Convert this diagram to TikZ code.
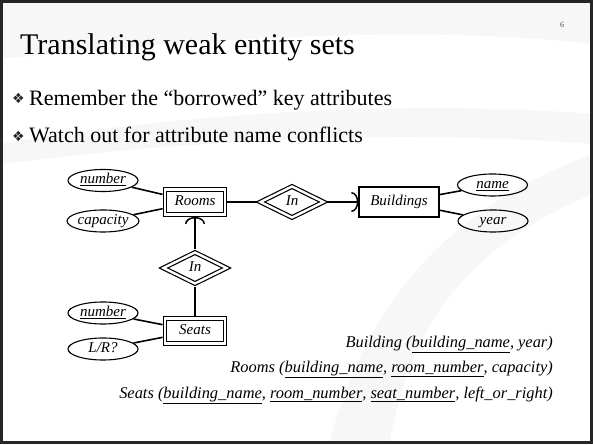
\documentclass[tikz,border=0pt]{standalone}
\usepackage{fontspec}
\setmainfont{Liberation Serif}
\newfontfamily\symfont{DejaVu Sans}
\usetikzlibrary{shapes.geometric,arrows.meta}
\begin{document}
\begin{tikzpicture}[x=1pt,y=1pt,
  dfont/.style={font=\fontsize{15}{15}\selectfont\itshape, text height=10pt, text depth=3pt},
  ent/.style={draw, line width=1.2pt, minimum width=60pt, minimum height=25pt, inner sep=0pt, dfont},
  weak/.style={ent, double, double distance=2.4pt, outer sep=2.4pt},
  strong/.style={ent, minimum width=80pt, minimum height=30pt},
  rel/.style={diamond, draw, line width=1.2pt, double, double distance=2.4pt, minimum width=65pt, minimum height=33pt, inner sep=0pt, outer sep=2.4pt, dfont},
  attr/.style={ellipse, draw, line width=1.1pt, minimum width=70pt, minimum height=22pt, inner sep=0pt, dfont},
  conn/.style={line width=1.6pt},
  arcend/.style={-{Arc Barb[width=20pt,length=7pt,line width=1.5pt]}},
  schema/.style={anchor=base east, inner sep=0pt, font=\fontsize{16.4}{16.4}\selectfont\itshape},
  bul/.style={anchor=base west, inner sep=0pt, font=\symfont\fontsize{14}{14}\selectfont, text=black!85},
  btext/.style={anchor=base west, inner sep=0pt, font=\fontsize{22}{22}\selectfont},
  swoosh/.style={fill=black!3, draw=none}
]
\useasboundingbox (0,0) rectangle (593,444);
\fill[white] (0,0) rectangle (593,444);
% faint background swooshes
\fill[swoosh] (0,444) -- (0,385) .. controls (200,405) and (420,420) .. (593,400) -- (593,444) -- cycle;
\fill[swoosh] (0,300) .. controls (180,330) and (400,345) .. (593,330) -- (593,300) .. controls (400,315) and (200,305) .. (0,280) -- cycle;
\fill[swoosh] (330,3) .. controls (360,120) and (430,230) .. (593,290) -- (593,250) .. controls (470,200) and (410,120) .. (390,3) -- cycle;
\draw[line width=3pt, black!85] (1.5,1.5) rectangle (591.5,442.5);

% title and page number
\node[anchor=base west, inner sep=0pt, font=\fontsize{30}{30}\selectfont] (title) at (20,389) {Translating weak entity sets};
\node[inner sep=0pt, font=\fontsize{8}{8}\selectfont, text=black!70] (pno) at (562,419) {6};

% bullets
\node[bul] (b1) at (12,340) {❖};
\node[btext] (t1) at (29,338.5) {Remember the “borrowed” key attributes};
\node[bul] (b2) at (12,302.5) {❖};
\node[btext] (t2) at (29,301) {Watch out for attribute name conflicts};

% ER diagram
\node[weak] (rooms) at (195,242) {Rooms};
\node[rel] (in1) at (292,242) {In};
\node[strong] (bld) at (399,242) {Buildings};
\node[attr] (num1) at (103,263.5) {\underline{number}};
\node[attr] (cap) at (103,223) {capacity};
\node[attr] (name) at (492.5,259) {\underline{name}};
\node[attr] (year) at (493,223) {year};
\node[rel] (in2) at (195,176) {In};
\node[weak] (seats) at (195,113) {Seats};
\node[attr] (num2) at (103,131) {\underline{number}};
\node[attr] (lr) at (103,95) {L/R?};

\draw[conn] (num1) -- (rooms);
\draw[conn] (cap) -- (rooms);
\draw[conn] (rooms) -- (in1);
\draw[conn, arcend] (in1) -- (bld);
\draw[conn] (bld) -- (name);
\draw[conn] (bld) -- (year);
\draw[conn, arcend] (in2) -- (rooms);
\draw[conn] (in2) -- (seats);
\draw[conn] (num2) -- (seats);
\draw[conn] (lr) -- (seats);

% relational schemas
\node[schema] (s1) at (553,97) {Building (\underline{building\_name}, year)};
\node[schema] (s2) at (553,71.5) {Rooms (\underline{building\_name}, \underline{room\_number}, capacity)};
\node[schema] (s3) at (553,46) {Seats (\underline{building\_name}, \underline{room\_number}, \underline{seat\_number}, left\_or\_right)};
\end{tikzpicture}
\end{document}
